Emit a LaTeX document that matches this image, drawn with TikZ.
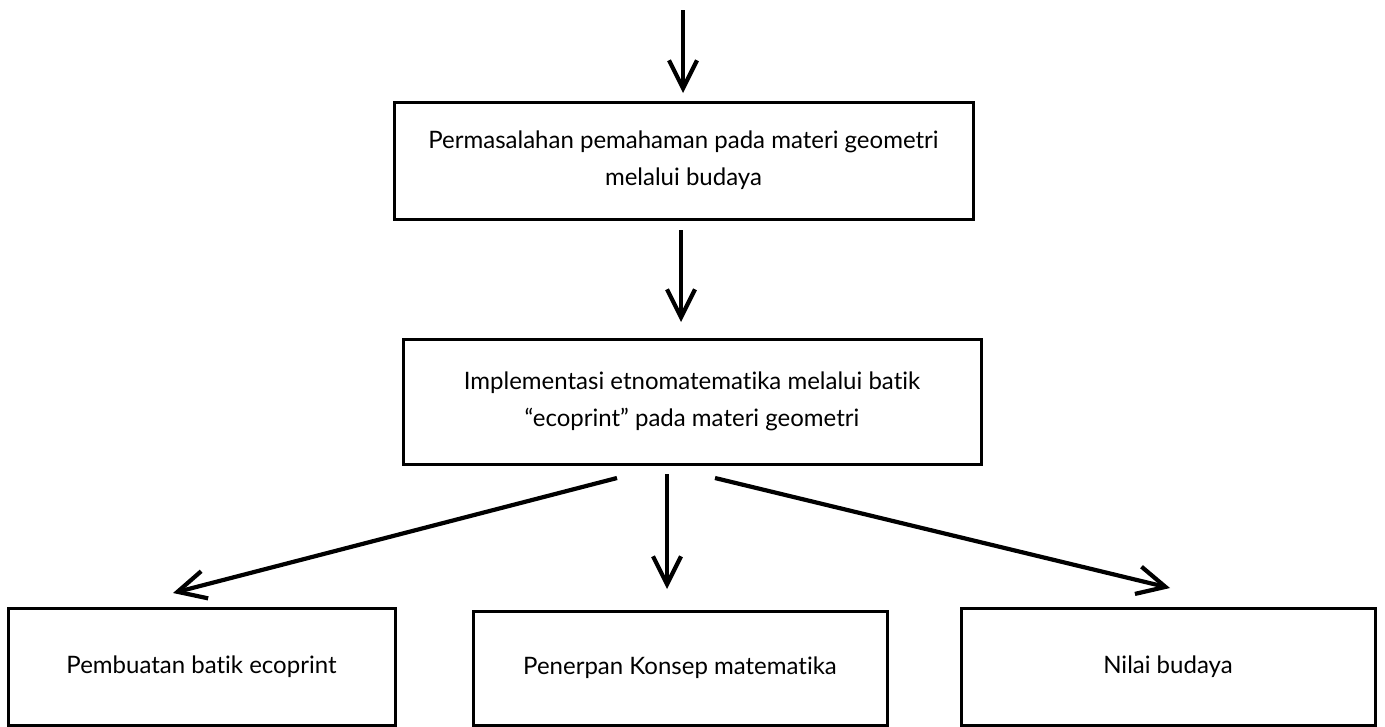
\documentclass[tikz,border=0pt]{standalone}
\usepackage{fontspec}
\setmainfont{Lato}[Ligatures=NoCommon]
\usetikzlibrary{arrows.meta}
\begin{document}
\begin{tikzpicture}[x=1pt,y=-1pt,
  box/.style={draw=black,line width=3pt,rectangle,inner sep=0pt,align=center,font=\fontsize{24}{37}\selectfont},
  conn/.style={line width=4.2pt,-{Straight Barb[length=28pt,width=28pt,line width=4.2pt]}}]
\useasboundingbox (0,0) rectangle (1385,726);
\node[box,minimum width=579pt,minimum height=117pt] (b1) at (683.5,160.5)
  {Permasalahan pemahaman pada materi geometri\\melalui budaya};
\node[box,minimum width=578pt,minimum height=125pt] (b2) at (692,401.5)
  {Implementasi etnomatematika melalui batik\\“ecoprint” pada materi geometri};
\node[box,minimum width=387pt,minimum height=117pt] (c1) at (201.5,666.5) {Pembuatan batik ecoprint};
\node[box,minimum width=414pt,minimum height=114pt] (c2) at (680,668) {Penerpan Konsep matematika};
\node[box,minimum width=414pt,minimum height=117pt] (c3) at (1168,666.5) {Nilai budaya};
\coordinate (top) at (683,10);
\coordinate (t1) at (683,93);
\coordinate (s2) at (681,230);
\coordinate (t2) at (681,322);
\coordinate (sl) at (617,478);
\coordinate (tl) at (173,593);
\coordinate (sm) at (667,474);
\coordinate (tm) at (667,589);
\coordinate (sr) at (715,478);
\coordinate (tr) at (1170,588);
\draw[conn] (top) -- (t1);
\draw[conn] (s2) -- (t2);
\draw[conn] (sl) -- (tl);
\draw[conn] (sm) -- (tm);
\draw[conn] (sr) -- (tr);
\end{tikzpicture}
\end{document}
